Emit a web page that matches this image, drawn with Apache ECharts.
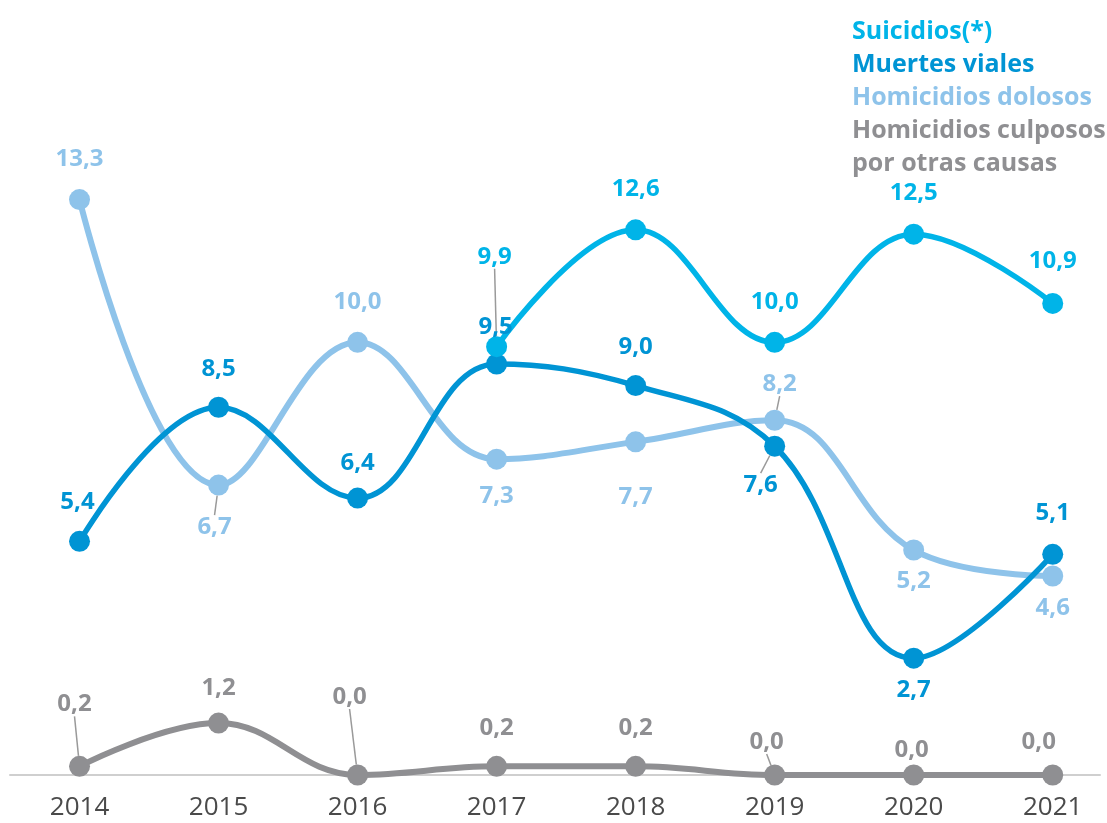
<!DOCTYPE html>
<html>
<head>
<meta charset="utf-8">
<script src="https://cdn.jsdelivr.net/npm/echarts@6/dist/echarts.min.js"></script>
<style>
    html, body { margin: 0; padding: 0; background: #fff; }
    #chart { width: 1107px; height: 823px; }
</style>
</head>
<body>
<div id="chart"></div>
<script>
// datos
const years = [2014, 2015, 2016, 2017, 2018, 2019, 2020, 2021];
const suicidios = [null, null, null, 9.9, 12.6, 10.0, 12.5, 10.9];
const muertesViales = [5.4, 8.5, 6.4, 9.5, 9.0, 7.6, 2.7, 5.1];
const homDolosos = [13.3, 6.7, 10.0, 7.3, 7.7, 8.2, 5.2, 4.6];
const homCulposos = [0.2, 1.2, 0.0, 0.2, 0.2, 0.0, 0.0, 0.0];

const names = {
    sui: 'Suicidios(*)',
    mue: 'Muertes viales',
    dol: 'Homicidios dolosos',
    cul: 'Homicidios culposos\npor otras causas'
};

const colors = {
    sui: '#00b4e8',
    mue: '#0094d4',
    dol: '#8ec3ea',
    cul: '#8f8f92'
};

// posicion de etiquetas (desplazamiento desde el punto) y lineas guia
const labelShift = {
    dol: [[0, -40], [-4, 42], [0, -40], [0, 37], [0, 55], [5, -36], [0, 31], [0, 32]],
    mue: [[-2, -39], [0, -38], [0, -35], [-1, -37], [0, -38], [-14, 39], [0, 32], [0, -41]],
    sui: [[0, 0], [0, 0], [0, 0], [-2, -90], [0, -41], [0, -40], [0, -41], [0, -42]],
    cul: [[-5, -62], [0, -35], [-8, -78], [0, -38], [0, -38], [-8, -33], [-2, -25], [-14, -33]]
};
const guideLines = {
    dol: [1, 5],
    mue: [5],
    sui: [3],
    cul: [0, 2, 5]
};

const FONT = '"Open Sans", "Noto Sans", sans-serif';

function fmt(v) {
    return v.toFixed(1).replace('.', ',');
}

function makeSeries(key, values, width) {
    const shifts = labelShift[key];
    return {
        name: names[key],
        type: 'line',
        smooth: 0.4,
        symbol: 'circle',
        symbolSize: 21,
        lineStyle: { color: colors[key], width: width },
        itemStyle: { color: colors[key] },
        data: years.map((y, i) => ({
            value: [y, values[i] === null ? '-' : values[i]],
            labelLine: { show: guideLines[key].indexOf(i) >= 0 }
        })),
        label: {
            show: true,
            position: 'inside',
            color: colors[key],
            fontFamily: FONT,
            fontWeight: 'bold',
            fontSize: 24,
            formatter: p => fmt(p.value[1])
        },
        labelLine: {
            lineStyle: { color: '#9a9a9a', width: 1.5 }
        },
        labelLayout: p => {
            const s = shifts[p.dataIndex] || [0, 0];
            return { dx: s[0], dy: s[1] };
        },
        emphasis: { disabled: true }
    };
}

const chart = echarts.init(document.getElementById('chart'));

const options = {
    backgroundColor: '#ffffff',
    animation: false,
    legend: {
        orient: 'vertical',
        left: 842,
        top: 10,
        itemGap: 0,
        itemWidth: 0,
        itemHeight: 0,
        selectedMode: false,
        icon: 'none',
        data: [
            { name: names.sui, textStyle: { color: colors.sui } },
            { name: names.mue, textStyle: { color: colors.mue } },
            { name: names.dol, textStyle: { color: colors.dol } },
            { name: names.cul, textStyle: { color: colors.cul } }
        ],
        textStyle: {
            fontFamily: FONT,
            fontWeight: 'bold',
            fontSize: 25,
            lineHeight: 33
        }
    },
    grid: {
        left: 10,
        right: 7,
        top: 126,
        bottom: 48
    },
    xAxis: {
        type: 'value',
        min: 2013.5,
        max: 2021.34,
        interval: 0.5,
        splitLine: { show: false },
        axisTick: { show: false },
        axisLine: { show: true, lineStyle: { color: '#cfcfcf', width: 2 } },
        axisLabel: {
            color: '#4a4a4a',
            fontFamily: FONT,
            fontSize: 26,
            margin: 20,
            showMinLabel: false,
            showMaxLabel: false,
            formatter: v => (Math.abs(v - Math.round(v)) < 0.01 ? String(Math.round(v)) : '')
        }
    },
    yAxis: {
        type: 'value',
        min: 0,
        max: 15,
        show: false,
        splitLine: { show: false }
    },
    series: [
        makeSeries('dol', homDolosos, 6),
        makeSeries('mue', muertesViales, 5.5),
        makeSeries('sui', suicidios, 5.5),
        makeSeries('cul', homCulposos, 6)
    ]
};

chart.setOption(options);
</script>
</body>
</html>
